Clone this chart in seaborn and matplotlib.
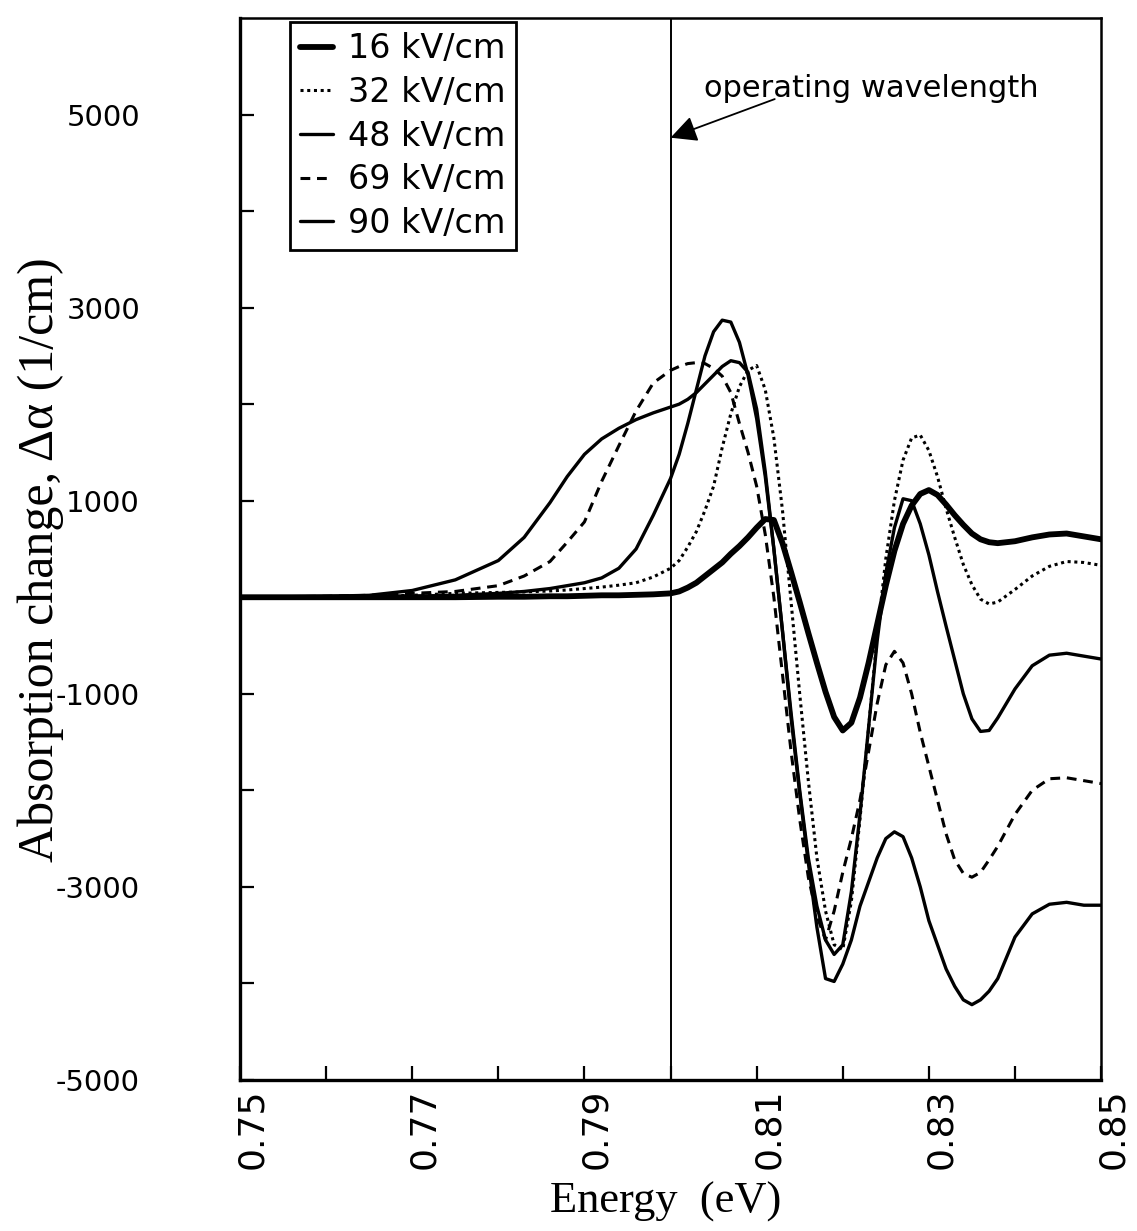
import numpy as np
import pandas as pd
import matplotlib
matplotlib.use("Agg")
import matplotlib.pyplot as plt
import matplotlib.transforms as mtransforms
from matplotlib.ticker import FixedLocator
import seaborn as sns

# ---------------- data ----------------
energy = [0.750, 0.760, 0.765, 0.770, 0.775, 0.780, 0.783, 0.786, 0.788, 0.790,
          0.792, 0.794, 0.796, 0.798,
          0.800, 0.801, 0.802, 0.803, 0.804, 0.805, 0.806, 0.807, 0.808, 0.809,
          0.810, 0.811, 0.812, 0.813, 0.814, 0.815, 0.816, 0.817, 0.818, 0.819,
          0.820, 0.821, 0.822, 0.823, 0.824, 0.825, 0.826, 0.827, 0.828, 0.829,
          0.830, 0.831, 0.832, 0.833, 0.834, 0.835, 0.836, 0.837, 0.838,
          0.840, 0.842, 0.844, 0.846, 0.848, 0.850]

field_16 = [0, 0, 0, 0, 0, 5, 5, 10, 10, 15,
            20, 20, 25, 30,
            40, 60, 100, 150, 220, 290, 360, 450, 530, 620,
            720, 810, 800, 560, 260, -50, -370, -680, -980, -1240,
            -1380, -1300, -1040, -680, -280, 120, 480, 760, 950, 1070,
            1110, 1060, 960, 850, 750, 660, 600, 570, 560,
            580, 620, 650, 660, 630, 600]

field_32 = [0, 0, 10, 20, 40, 50, 55, 65, 75, 90,
            105, 125, 150, 210,
            300, 380, 520, 680, 900, 1150, 1550, 1900, 2180, 2350,
            2400, 2150, 1650, 900, -50, -1000, -1900, -2700, -3250, -3600,
            -3650, -3150, -2300, -1350, -400, 400, 1000, 1420, 1650, 1680,
            1520, 1250, 920, 620, 340, 130, -20, -70, -50,
            80, 220, 320, 370, 360, 330]

field_48 = [0, 0, 0, 10, 20, 40, 60, 90, 120, 150,
            200, 300, 500, 850,
            1230, 1480, 1800, 2150, 2500, 2750, 2870, 2850, 2640, 2300,
            1850, 1250, 500, -350, -1200, -2000, -2700, -3200, -3550, -3700,
            -3600, -3050, -2250, -1350, -450, 250, 720, 1020, 1000, 760,
            440, 60, -300, -650, -1000, -1260, -1390, -1380, -1250,
            -950, -710, -600, -580, -610, -640]

field_69 = [0, 10, 20, 40, 60, 120, 220, 370, 570, 780,
            1200, 1570, 1930, 2220,
            2350, 2390, 2420, 2430, 2420, 2370, 2290, 2120, 1800, 1500,
            1150, 650, 0, -800, -1600, -2300, -2900, -3300, -3550, -3250,
            -2850, -2500, -2100, -1600, -1100, -700, -560, -680, -1000, -1400,
            -1750, -2100, -2450, -2720, -2860, -2900, -2850, -2720, -2580,
            -2250, -2000, -1880, -1870, -1900, -1930]

field_90 = [0, 10, 20, 70, 180, 380, 620, 980, 1250, 1480,
            1640, 1750, 1840, 1910,
            1970, 2000, 2050, 2120, 2210, 2300, 2390, 2450, 2430, 2330,
            1950, 1300, 500, -350, -1250, -2030, -2750, -3420, -3950, -3980,
            -3800, -3550, -3200, -2950, -2700, -2500, -2430, -2480, -2700, -3000,
            -3350, -3600, -3850, -4030, -4170, -4220, -4170, -4080, -3950,
            -3520, -3280, -3180, -3160, -3190, -3190]

series_labels = ["16 kV/cm", "32 kV/cm", "48 kV/cm", "69 kV/cm", "90 kV/cm"]
series_values = [field_16, field_32, field_48, field_69, field_90]

x_ticks = [0.75, 0.76, 0.77, 0.78, 0.79, 0.80, 0.81, 0.82, 0.83, 0.84, 0.85]
x_tick_labels = ["0.75", "", "0.77", "", "0.79", "", "0.81", "", "0.83", "", "0.85"]
y_ticks = [-5000, -4000, -3000, -2000, -1000, 0, 1000, 2000, 3000, 4000, 5000]
y_tick_labels = ["-5000", "", "-3000", "", "-1000", "", "1000", "", "3000", "", "5000"]
operating_energy = 0.80

# ---------------- styling ----------------
styles = {
    "16 kV/cm": dict(lw=4.2, ls="-"),
    "32 kV/cm": dict(lw=2.2, ls=(0, (1.0, 1.2))),
    "48 kV/cm": dict(lw=2.4, ls="-"),
    "69 kV/cm": dict(lw=2.2, ls=(0, (3.2, 2.2))),
    "90 kV/cm": dict(lw=2.4, ls="-"),
}

sns.set_style("white")
plt.rcParams["font.family"] = ["DejaVu Sans"]
plt.rcParams["text.color"] = "black"
plt.rcParams["axes.labelcolor"] = "black"
plt.rcParams["xtick.color"] = "black"
plt.rcParams["ytick.color"] = "black"

frames = []
for lab, vals in zip(series_labels, series_values):
    frames.append(pd.DataFrame({"energy": energy, "delta_alpha": vals, "field": lab}))
df = pd.concat(frames, ignore_index=True)

fig = plt.figure(figsize=(11.37, 12.31), dpi=100)
ax = fig.add_axes([0.2111, 0.1227, 0.7573, 0.8627])

for lab in series_labels:
    sub = df[df["field"] == lab]
    st = styles[lab]
    sns.lineplot(data=sub, x="energy", y="delta_alpha", ax=ax, color="black",
                 linewidth=st["lw"], linestyle=st["ls"], label=lab,
                 estimator=None, sort=True)

ax.axvline(operating_energy, color="black", lw=1.4, zorder=1)

ax.set_xlim(0.75, 0.85)
ax.set_ylim(-5000, 6000)

ax.xaxis.set_major_locator(FixedLocator(x_ticks))
ax.set_xticklabels(x_tick_labels, rotation=90, fontsize=26)
ax.yaxis.set_major_locator(FixedLocator(y_ticks))
ax.set_yticklabels(y_tick_labels, fontsize=21)
ax.yaxis.set_minor_locator(FixedLocator([0]))

ax.tick_params(axis="both", which="both", bottom=True, left=True, top=False, right=False)
ax.tick_params(axis="both", which="major", direction="in", length=10, width=1.6,
               colors="black")
ax.tick_params(axis="y", which="major", pad=72)
ax.tick_params(axis="x", which="major", pad=6)
ax.tick_params(axis="y", which="minor", direction="out", length=8, width=1.6)

offset = mtransforms.ScaledTranslation(12 / 100, 0, fig.dpi_scale_trans)
for lbl in ax.get_xticklabels():
    lbl.set_transform(lbl.get_transform() + offset)

for side in ["left", "bottom", "top", "right"]:
    ax.spines[side].set_visible(True)
    ax.spines[side].set_color("black")
ax.spines["left"].set_linewidth(2.4)
ax.spines["bottom"].set_linewidth(2.4)
ax.spines["top"].set_linewidth(1.8)
ax.spines["right"].set_linewidth(1.8)

ax.set_xlabel("Energy  (eV)", fontsize=32, family=["Liberation Serif"], va="center")
ax.xaxis.set_label_coords(0.494, -0.115)
ax.set_ylabel("Absorption change, \u0394\u03b1 (1/cm)", fontsize=36,
              family=["Liberation Serif"], va="center")
ax.yaxis.set_label_coords(-0.232, 0.49)

# annotation for operating wavelength
ax.annotate("", xy=(operating_energy, 4760), xytext=(0.8121, 5160),
            arrowprops=dict(arrowstyle="-|>", lw=1.3, color="black",
                            mutation_scale=40, shrinkA=0, shrinkB=0))
ax.text(0.8039, 5270, "operating wavelength", fontsize=22, va="center", ha="left")

leg = ax.legend(loc="upper left", bbox_to_anchor=(0.058, 0.996), borderaxespad=0,
                fontsize=24, handlelength=1.0, handletextpad=0.45,
                labelspacing=0.32, borderpad=0.3, frameon=True, fancybox=False)
leg.get_frame().set_edgecolor("black")
leg.get_frame().set_linewidth(2.0)
leg.get_frame().set_facecolor("white")
leg.get_frame().set_alpha(1)

fig.savefig("out.png", dpi=100, facecolor="white")
